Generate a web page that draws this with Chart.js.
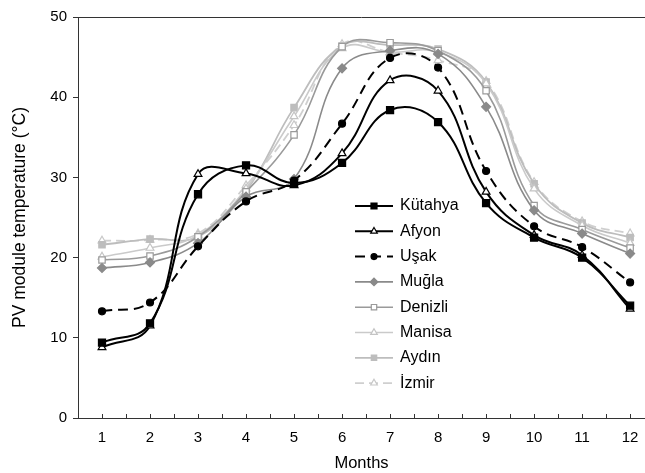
<!DOCTYPE html>
<html>
<head>
<meta charset="utf-8">
<script src="https://cdn.jsdelivr.net/npm/chart.js@4"></script>
<style>
  html, body { margin: 0; padding: 0; background: #fff; }
  #wrap { width: 645px; height: 473px; }
</style>
</head>
<body>
<div id="wrap"><canvas id="chart-temp" width="645" height="473"></canvas></div>
<script>
const months = [1, 2, 3, 4, 5, 6, 7, 8, 9, 10, 11, 12];
const kutahya = [9.4, 11.8, 27.9, 31.5, 29.3, 31.8, 38.4, 36.9, 26.8, 22.5, 20.0, 14.0];
const afyon = [8.8, 11.5, 30.4, 30.5, 29.0, 33.0, 42.1, 40.8, 28.2, 22.8, 20.3, 13.6];
const usak = [13.3, 14.4, 21.4, 27.0, 29.6, 36.7, 44.9, 43.7, 30.8, 23.9, 21.3, 16.9];
const mugla = [18.7, 19.4, 21.8, 27.6, 29.8, 43.6, 45.8, 45.4, 38.8, 25.9, 23.0, 20.5];
const denizli = [19.7, 20.2, 22.6, 28.2, 35.3, 46.3, 46.8, 45.8, 40.8, 26.5, 23.5, 21.2];
const manisa = [20.1, 21.2, 22.8, 28.6, 37.6, 46.1, 45.6, 45.6, 41.7, 28.6, 24.0, 21.8];
const aydin = [21.6, 22.3, 22.6, 28.3, 38.7, 46.4, 46.5, 46.0, 41.9, 29.2, 24.3, 22.5];
const izmir = [22.1, 22.2, 23.0, 29.0, 36.5, 46.6, 45.6, 44.6, 42.0, 29.4, 24.5, 23.0];
const yTicks = [0, 10, 20, 30, 40, 50];

const FONT = "'Liberation Sans', Arial, sans-serif";
const AXIS_COLOR = "#333";

function toPoints(values) {
  return values.map((v, i) => ({ x: months[i], y: v }));
}

function series(label, values, style) {
  return Object.assign(
    {
      label,
      data: toPoints(values),
      borderWidth: 2,
      tension: 0.42,
      fill: false,
      pointBorderWidth: 1.2,
    },
    style
  );
}

const datasets = [
  series("Kütahya", kutahya, {
    borderColor: "#000", pointStyle: "rect", pointRadius: 5,
    pointBackgroundColor: "#000", pointBorderColor: "#000",
  }),
  series("Afyon", afyon, {
    borderColor: "#000", pointStyle: "triangle", pointRadius: 4.5,
    pointBackgroundColor: "#fff", pointBorderColor: "#000",
  }),
  series("Uşak", usak, {
    borderColor: "#000", borderDash: [10, 6], pointStyle: "circle", pointRadius: 3.5,
    pointBackgroundColor: "#000", pointBorderColor: "#000",
  }),
  series("Muğla", mugla, {
    borderColor: "#8a8a8a", pointStyle: "rectRot", pointRadius: 4.5, borderWidth: 1.6,
    pointBackgroundColor: "#8a8a8a", pointBorderColor: "#8a8a8a",
  }),
  series("Denizli", denizli, {
    borderColor: "#9a9a9a", pointStyle: "rect", pointRadius: 4.5, borderWidth: 1.6,
    pointBackgroundColor: "#fff", pointBorderColor: "#9a9a9a",
  }),
  series("Manisa", manisa, {
    borderColor: "#cacaca", pointStyle: "triangle", pointRadius: 4.5, borderWidth: 1.6,
    pointBackgroundColor: "#fff", pointBorderColor: "#c4c4c4",
  }),
  series("Aydın", aydin, {
    borderColor: "#bdbdbd", pointStyle: "rect", pointRadius: 4.5, borderWidth: 1.8,
    pointBackgroundColor: "#bdbdbd", pointBorderColor: "#bdbdbd",
  }),
  series("İzmir", izmir, {
    borderColor: "#cfcfcf", borderDash: [9, 5], pointStyle: "triangle", pointRadius: 4.5,
    borderWidth: 1.8, pointBackgroundColor: "#fff", pointBorderColor: "#c8c8c8",
  }),
];

// top frame line + small inward ticks on the month axis
const framePlugin = {
  id: "frame",
  afterDraw(chart) {
    const { ctx, chartArea } = chart;
    const xs = chart.scales.x;
    ctx.save();
    ctx.strokeStyle = AXIS_COLOR;
    ctx.lineWidth = 1;
    ctx.beginPath();
    ctx.moveTo(chartArea.left, chartArea.top + 0.5);
    ctx.lineTo(chart.width, chartArea.top + 0.5);
    xs.ticks.forEach((t) => {
      const px = Math.round(xs.getPixelForValue(t.value)) + 0.5;
      ctx.moveTo(px, chartArea.bottom);
      ctx.lineTo(px, chartArea.bottom - 4);
    });
    ctx.stroke();
    ctx.restore();
  },
};

// legend sitting inside the plot area
const insideLegend = {
  id: "insideLegend",
  afterDraw(chart, args, opts) {
    const { ctx } = chart;
    ctx.save();
    chart.data.datasets.forEach((ds, i) => {
      const y = opts.top + i * opts.step;
      ctx.strokeStyle = ds.borderColor;
      ctx.lineWidth = ds.borderWidth;
      ctx.setLineDash(ds.borderDash || []);
      ctx.beginPath();
      ctx.moveTo(opts.left, y);
      ctx.lineTo(opts.left + opts.lineLen, y);
      ctx.stroke();
      ctx.setLineDash([]);
      ctx.fillStyle = ds.pointBackgroundColor;
      ctx.strokeStyle = ds.pointBorderColor;
      ctx.lineWidth = ds.pointBorderWidth;
      Chart.helpers.drawPoint(
        ctx,
        { pointStyle: ds.pointStyle, radius: ds.pointRadius * 0.85, borderWidth: ds.pointBorderWidth },
        opts.left + opts.lineLen / 2,
        y
      );
      ctx.fillStyle = "#000";
      ctx.font = "16px " + FONT;
      ctx.textBaseline = "middle";
      ctx.fillText(ds.label, opts.left + opts.lineLen + 7, y);
    });
    ctx.restore();
  },
};

const config = {
  type: "line",
  data: { datasets },
  plugins: [framePlugin, insideLegend],
  options: {
    responsive: false,
    animation: false,
    layout: { autoPadding: false, padding: { top: 17, right: 0, left: 0, bottom: 0 } },
    plugins: {
      legend: { display: false },
      tooltip: { enabled: false },
      insideLegend: { left: 355, top: 206, step: 25.3, lineLen: 38 },
    },
    scales: {
      x: {
        type: "linear",
        min: 0.5,
        max: 12.31,
        afterBuildTicks: (scale) => {
          const ticks = [];
          for (let v = 1; v <= 12; v += 0.5) ticks.push({ value: v });
          scale.ticks = ticks;
        },
        afterFit: (scale) => {
          scale.height = 55;
          scale.paddingLeft = 0;
          scale.paddingRight = 0;
        },
        ticks: {
          autoSkip: false,
          maxRotation: 0,
          padding: 11,
          color: "#000",
          font: { family: FONT, size: 15 },
          callback: (v) => (Number.isInteger(v) ? String(v) : ""),
        },
        grid: { drawOnChartArea: false, drawTicks: false },
        border: { color: AXIS_COLOR, width: 1 },
        title: {
          display: true,
          text: "Months",
          color: "#000",
          font: { family: FONT, size: 16.5 },
          padding: { top: 0, bottom: 0 },
        },
      },
      y: {
        min: 0,
        max: 50,
        afterBuildTicks: (scale) => {
          scale.ticks = yTicks.map((v) => ({ value: v }));
        },
        afterFit: (scale) => {
          scale.width = 78;
        },
        ticks: {
          padding: 6,
          color: "#000",
          font: { family: FONT, size: 15 },
        },
        grid: { drawOnChartArea: false, drawTicks: true, tickLength: 5, color: AXIS_COLOR },
        border: { color: AXIS_COLOR, width: 1 },
        title: {
          display: true,
          text: "PV module temperature (°C)",
          color: "#000",
          font: { family: FONT, size: 17.5 },
          padding: { top: 10, bottom: 0 },
        },
      },
    },
  },
};

const chartTemp = new Chart(document.getElementById("chart-temp"), config);
</script>
</body>
</html>
